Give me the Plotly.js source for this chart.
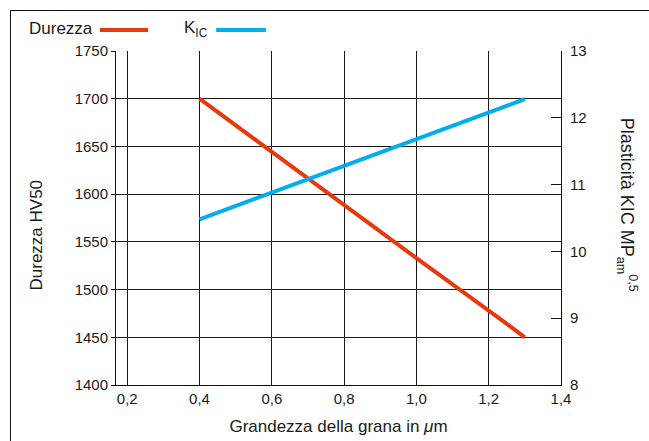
<!DOCTYPE html>
<html>
<head>
<meta charset="utf-8">
<script src="https://cdn.plot.ly/plotly-3.0.1.min.js"></script>
<style>
html,body{margin:0;padding:0;background:#fff;}
#wrap{position:relative;width:649px;height:441px;overflow:hidden;}
#chart{position:absolute;left:0;top:0;width:649px;height:441px;}
#frame{position:absolute;left:10px;top:10px;width:700px;height:500px;border-left:1.5px solid #111;border-top:1.5px solid #111;pointer-events:none;}
</style>
</head>
<body>
<div id="wrap"><div id="chart"></div><div id="frame"></div></div>
<script>
// Data
const grainSize = [0.4, 0.6, 0.8, 1.0, 1.2, 1.3];
const durezza = [1700, 1644, 1589, 1533, 1478, 1450];
const kic = [10.48, 10.88, 11.28, 11.68, 12.08, 12.28];

const legendDurezza = 'Durezza';
const legendKic = 'K<sub>IC</sub>';
const xTitle = 'Grandezza della grana in <i>μ</i>m';
const yLeftTitle = 'Durezza HV50';
const yRightTitle = 'Plasticità KIC MP<sub>am</sub><sup>0,5</sup>';

const RED = '#e8380d';
const BLUE = '#00aeef';
const FONT = 'Liberation Sans, Arial, Helvetica, sans-serif';

const traces = [
  {x: grainSize, y: durezza, type: 'scatter', mode: 'lines', name: 'Durezza',
   line: {color: RED, width: 4}, yaxis: 'y', showlegend: false},
  {x: grainSize, y: kic, type: 'scatter', mode: 'lines', name: 'KIC',
   line: {color: BLUE, width: 4}, yaxis: 'y2', showlegend: false}
];

const layout = {
  width: 649, height: 441,
  margin: {l: 116, r: 88, t: 51, b: 56},
  paper_bgcolor: '#fff', plot_bgcolor: '#fff',
  separators: ',.',
  font: {family: FONT, size: 15, color: '#1a1a1a'},
  showlegend: false,
  xaxis: {
    range: [0.169, 1.4], tick0: 0.2, dtick: 0.2, tickformat: '.1f',
    showgrid: true, gridcolor: '#1a1a1a', gridwidth: 1,
    showline: true, linecolor: '#111', linewidth: 1,
    ticks: '', zeroline: false,
    tickfont: {size: 15, family: FONT},
    title: {text: xTitle, font: {size: 17, family: FONT}, standoff: 14},
    automargin: false
  },
  yaxis: {
    range: [1400, 1750], dtick: 50, tick0: 1400,
    showgrid: true, gridcolor: '#1a1a1a', gridwidth: 1,
    showline: true, linecolor: '#111', linewidth: 1,
    ticks: 'outside', ticklen: 4, tickcolor: '#111',
    zeroline: false, tickfont: {size: 15, family: FONT},
    automargin: false
  },
  yaxis2: {
    range: [8, 13], dtick: 1, tick0: 8,
    overlaying: 'y', side: 'right',
    showgrid: false, showline: true, linecolor: '#111', linewidth: 1,
    ticks: 'inside', ticklen: 10, tickcolor: '#111',
    ticklabelstandoff: 5,
    zeroline: false, tickfont: {size: 15, family: FONT},
    automargin: false
  },
  annotations: [
    {xref: 'paper', yref: 'paper', x: -0.178, y: 0.45, text: yLeftTitle, textangle: -90,
     showarrow: false, font: {size: 17, family: FONT}, xanchor: 'center', yanchor: 'middle'},
    {xref: 'paper', yref: 'paper', x: 1.148, y: 0.54, text: yRightTitle, textangle: 90,
     showarrow: false, font: {size: 18, family: FONT}, xanchor: 'center', yanchor: 'middle'},
    {xref: 'paper', yref: 'paper', x: -0.2, y: 1.066, text: legendDurezza,
     showarrow: false, font: {size: 17, family: FONT}, xanchor: 'left', yanchor: 'middle'},
    {xref: 'paper', yref: 'paper', x: 0.148, y: 1.066, text: legendKic,
     showarrow: false, font: {size: 17, family: FONT}, xanchor: 'left', yanchor: 'middle'}
  ],
  shapes: [
    {type: 'line', xref: 'paper', yref: 'paper', x0: -0.036, x1: 0.072, y0: 1.063, y1: 1.063,
     line: {color: RED, width: 4}},
    {type: 'line', xref: 'paper', yref: 'paper', x0: 0.225, x1: 0.337, y0: 1.063, y1: 1.063,
     line: {color: BLUE, width: 4}}
  ]
};

Plotly.newPlot('chart', traces, layout, {staticPlot: true, displayModeBar: false});
</script>
</body>
</html>
